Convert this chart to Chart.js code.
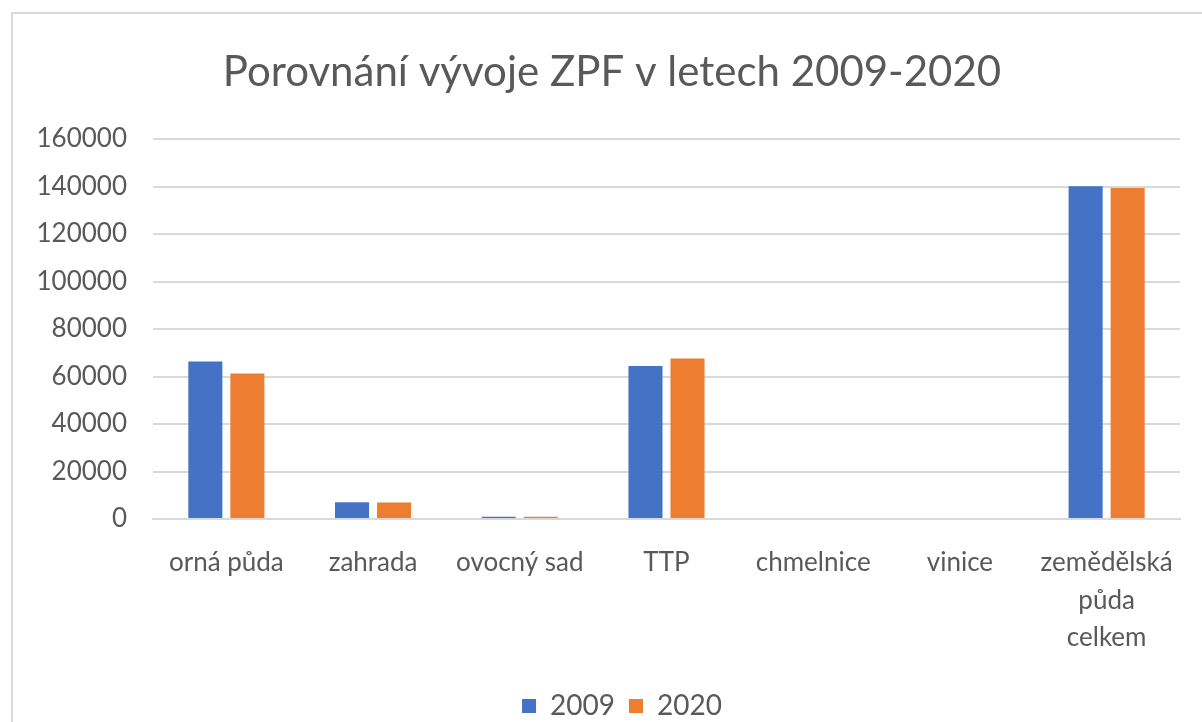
<!DOCTYPE html>
<html>
<head>
<meta charset="utf-8">
<script src="https://cdn.jsdelivr.net/npm/chart.js@4"></script>
<style>
  html, body { margin: 0; padding: 0; background: #fff; }
  #wrap { position: relative; width: 1202px; height: 722px; }
  #frame { position: absolute; left: 11px; top: 12px; right: 0; bottom: 0;
           border-left: 2px solid #d9d9d9; border-top: 2px solid #d9d9d9; }
  canvas { position: absolute; left: 0; top: 0; }
</style>
</head>
<body>
<div id="wrap">
  <div id="frame"></div>
  <canvas id="zpfChart" width="1202" height="722"></canvas>
</div>
<script>
const categories = ["orná půda", "zahrada", "ovocný sad", "TTP", "chmelnice", "vinice", ["zemědělská", "půda", "celkem"]];
const values2009 = [66300, 7100, 1000, 64400, 0, 0, 140100];
const values2020 = [61300, 7000, 900, 67600, 0, 0, 139400];
const yTicks = [0, 20000, 40000, 60000, 80000, 100000, 120000, 140000, 160000];

const textColor = "#595959";
const fontFamily = "Lato, 'Open Sans', sans-serif";

// title and legend sit a bit right of the plot centre in the original
const nudgeBoxes = {
  id: "nudgeBoxes",
  afterLayout(chart) {
    chart.titleBlock.left += 24;
    chart.legend.left += 44;
  }
};

const ctx = document.getElementById("zpfChart").getContext("2d");
const chart = new Chart(ctx, {
  type: "bar",
  data: {
    labels: categories,
    datasets: [
      { label: "2009", data: values2009, backgroundColor: "#4472C4",
        categoryPercentage: 0.573, barPercentage: 0.81 },
      { label: "2020", data: values2020, backgroundColor: "#ED7D31",
        categoryPercentage: 0.573, barPercentage: 0.81 }
    ]
  },
  options: {
    responsive: false,
    animation: false,
    layout: { padding: { left: 20, right: 22, top: 47, bottom: -8 } },
    plugins: {
      title: {
        display: true,
        text: "Porovnání vývoje ZPF v letech 2009-2020",
        color: textColor,
        font: { family: fontFamily, size: 42, weight: "normal", lineHeight: 1.2 },
        padding: { top: 0, bottom: 41.6 }
      },
      legend: {
        position: "bottom",
        labels: {
          color: textColor,
          font: { family: fontFamily, size: 28, lineHeight: 0.6 },
          boxWidth: 14,
          boxHeight: 14,
          padding: 14
        }
      },
      tooltip: { enabled: false }
    },
    scales: {
      x: {
        grid: { display: false },
        border: { display: true, color: "#d9d9d9", width: 2 },
        ticks: {
          color: textColor,
          font: { family: fontFamily, size: 26, lineHeight: 1.44 },
          maxRotation: 0,
          autoSkip: false,
          padding: 17
        },
        afterFit: s => { s.height = 159; }
      },
      y: {
        min: 0,
        max: 160000,
        afterBuildTicks: s => { s.ticks = yTicks.map(v => ({ value: v })); },
        grid: { color: "#d9d9d9", lineWidth: 2, drawTicks: false },
        border: { display: false },
        ticks: {
          color: textColor,
          font: { family: fontFamily, size: 26 },
          padding: 26,
          callback: v => String(v)
        },
        afterFit: s => { s.width = 133; }
      }
    }
  },
  plugins: [nudgeBoxes]
});
</script>
</body>
</html>
